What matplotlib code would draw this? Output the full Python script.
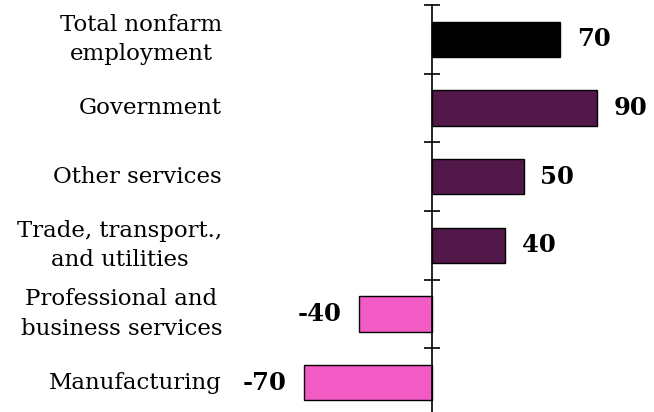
# Employment change by industry, horizontal bars

import numpy as np
import matplotlib.pyplot as plt

categories = ["Total nonfarm\nemployment", "Government", "Other services",
              "Trade, transport.,\nand utilities", "Professional and\nbusiness services",
              "Manufacturing"]
values = [70, 90, 50, 40, -40, -70]
colors = ["#000000", "#52184a", "#52184a", "#52184a", "#f25ac4", "#f25ac4"]

plt.rcParams['font.family'] = ['DejaVu Serif']

fig = plt.figure(figsize=(6.54, 4.12), dpi=100)
W, H = 654, 412
# axes spans pixel x 240..640, y 5..417 (top-down)
ax = fig.add_axes([240 / W, 1 - 417 / H, 400 / W, 412 / H])

scale = 1.835  # px per unit
ax.set_xlim((240 - 432) / scale, (640 - 432) / scale)
n = len(categories)
ax.set_ylim(n - 0.5, -0.5)

y = np.arange(n)
ax.barh(y, values, height=0.51, color=colors, edgecolor="black", linewidth=1)

for yi, v, c in zip(y, values, categories):
    off = 12 if v >= 0 else -12
    ax.annotate(f"{v}", (v, yi), xytext=(off, 0), textcoords="offset points",
                ha="left" if v >= 0 else "right", va="center",
                fontsize=17.5, fontweight="bold")
    ax.annotate(c, (0, yi), xytext=(-210 * 0.72, 0), textcoords="offset points",
                ha="right", va="center", fontsize=16.5, linespacing=1.45,
                multialignment="center")

for s in ["top", "right", "bottom"]:
    ax.spines[s].set_visible(False)
ax.spines["left"].set_position(("data", 0))
ax.spines["left"].set_linewidth(1.2)
ax.set_xticks([])
ax.set_yticks(np.arange(n + 1) - 0.5)
ax.set_yticklabels([])
ax.tick_params(axis="y", direction="inout", length=12, width=1.2)

fig.savefig("out.png", dpi=100)
